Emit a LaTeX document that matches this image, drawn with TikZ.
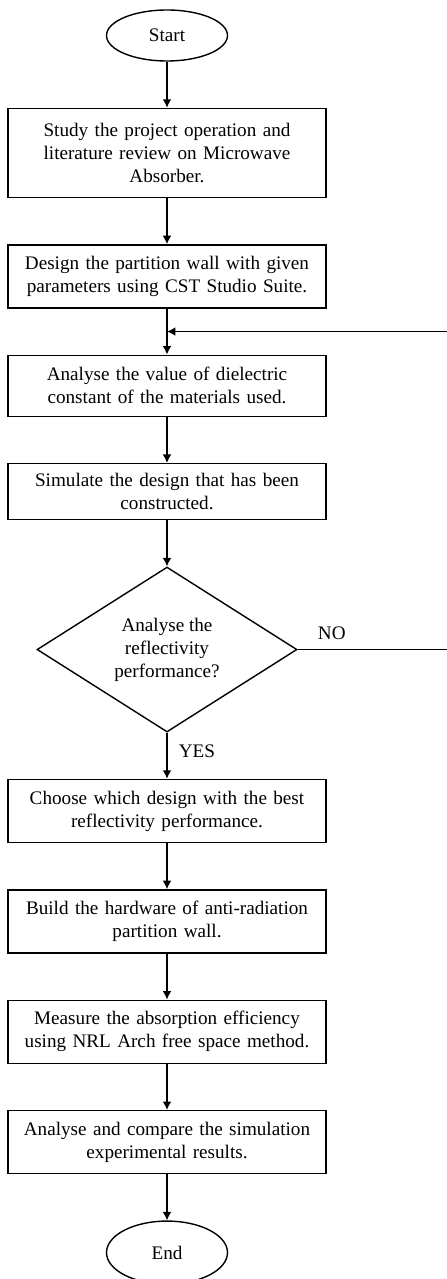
\documentclass[tikz,border=0pt]{standalone}
\usepackage{fontspec}
\setmainfont{Liberation Serif}
\usetikzlibrary{arrows,arrows.meta,shapes,positioning,calc}

\begin{document}
\begin{tikzpicture}[>={Latex[length=4.8pt,width=5pt]},node distance=0.92cm,font=\fontsize{10.9}{13.1}\selectfont]
          \tikzstyle{term}=[ellipse,thick,draw=black,minimum width=2.42cm,minimum height=1.02cm,inner sep=0pt]
          \tikzstyle{proc}=[rectangle,thick,draw=black,text width=6cm,inner xsep=0.18cm,minimum height=1.26cm,align=center]
          \tikzstyle{cond}=[diamond,thick,draw=black,aspect=1.58,minimum width=5.2cm,minimum height=3.3cm,inner sep=0pt,align=center]

          \useasboundingbox (0,0) rectangle (8.92,-25.58);

          \begin{scope}
            \node[term](x0) at (3.34,-0.71){Start};
            \node[proc,minimum height=1.78cm](x1)[below=of x0]{Study the project operation and\\literature review on Microwave\\Absorber.};
            \node[proc](x2)[below=of x1]{Design the partition wall with given\\parameters using CST Studio Suite.};
            \node[proc,minimum height=1.22cm](x3)[below=of x2]{Analyse the value of dielectric\\constant of the materials used.};
            \node[proc,minimum height=1.12cm](x4)[below=of x3]{Simulate the design that has been\\constructed.};
            \node[cond](x5)[below=of x4]{Analyse the\\reflectivity\\performance?};
            \node[proc](x6)[below=of x5]{Choose which design with the best\\reflectivity performance.};
            \node[proc](x7)[below=of x6]{Build the hardware of anti-radiation\\partition wall.};
            \node[proc](x8)[below=of x7]{Measure the absorption efficiency\\using NRL Arch free space method.};
            \node[proc](x9)[below=of x8]{Analyse and compare the simulation\\experimental results.};
            \node[term,minimum height=1.26cm](x10)[below=of x9]{End};

            % loop back point
            \coordinate (j) at ($(x2.south)!0.5!(x3.north)$);
            \coordinate (r) at (9.2,0);

            \path[->,thick]
            (x0) edge (x1)
            (x1) edge (x2)
            (x2) edge (x3)
            (x3) edge (x4)
            (x4) edge (x5)
            (x5) edge node[right,pos=0.4,xshift=3pt]{YES} (x6)
            (x6) edge (x7)
            (x7) edge (x8)
            (x8) edge (x9)
            (x9) edge (x10);

            \draw[->,thick] (x5.east) -- node[above,pos=0.21,yshift=2pt]{NO} (x5.east -| r) |- (j);
          \end{scope}
        \end{tikzpicture}
\end{document}
